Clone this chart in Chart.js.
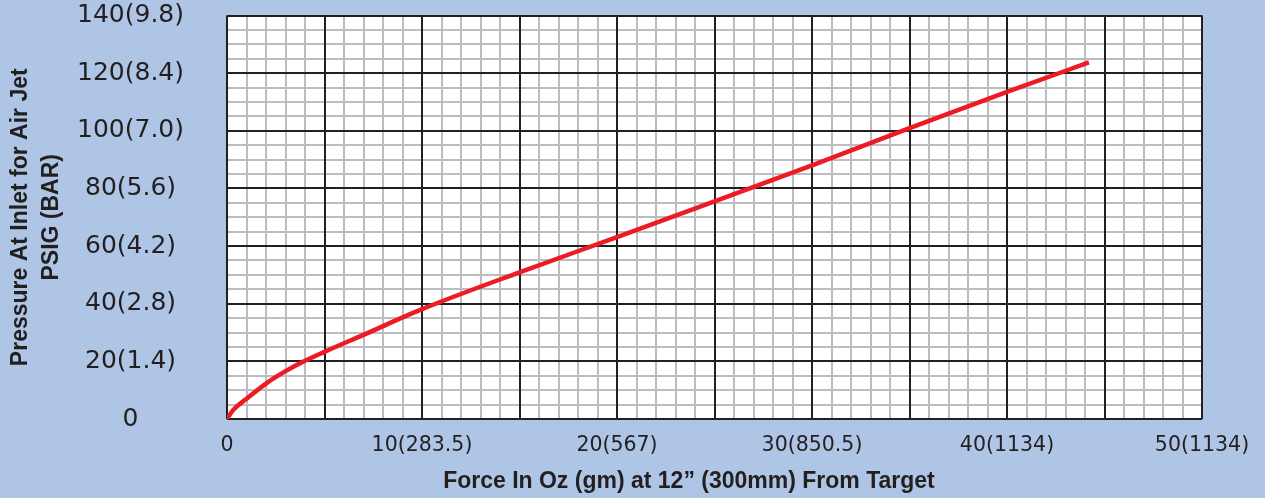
<!DOCTYPE html>
<html>
<head>
<meta charset="utf-8">
<script src="https://cdn.jsdelivr.net/npm/chart.js@4.4.1/dist/chart.umd.min.js"></script>
<style>
  html, body { margin: 0; padding: 0; background: #afc5e5; }
  #wrap { width: 1265px; height: 498px; position: relative; }
</style>
</head>
<body>
<div id="wrap"><canvas id="chart"></canvas></div>
<script>
// curve: force (oz) vs inlet pressure (psig)
const forceOz = [0, 0.3, 1, 2, 3, 4, 5, 7, 10, 15, 20, 25, 30, 35, 40, 44.2];
const pressurePsi = [0, 3.0, 7.0, 12.3, 16.6, 20.2, 23.3, 29.2, 38.1, 50.9, 63.1, 75.5, 88, 100.9, 113.5, 123.7];

const xTickValues = [0, 10, 20, 30, 40, 50];
const xTickLabels = ["0", "10(283.5)", "20(567)", "30(850.5)", "40(1134)", "50(1134)"];
const yTickValues = [0, 20, 40, 60, 80, 100, 120, 140];
const yTickLabels = ["0", "20(1.4)", "40(2.8)", "60(4.2)", "80(5.6)", "100(7.0)", "120(8.4)", "140(9.8)"];

const INK = "#231f20";
const MINOR = "#bcbdc1";

const pickLabel = (values, labels) => (v) => {
  const i = values.indexOf(v);
  return i >= 0 ? labels[i] : "";
};

const points = forceOz.map((x, i) => ({ x: x, y: pressurePsi[i] }));

// white paper behind the grid
const plotBackground = {
  id: "plotBackground",
  beforeDraw(chart) {
    const { ctx, chartArea: a } = chart;
    ctx.save();
    ctx.fillStyle = "#ffffff";
    ctx.fillRect(a.left, a.top, a.right - a.left, a.bottom - a.top);
    ctx.restore();
  },
};

new Chart(document.getElementById("chart"), {
  type: "line",
  data: {
    datasets: [{
      data: points,
      borderColor: "#ed1c24",
      borderWidth: 4.5,
      pointRadius: 0,
      cubicInterpolationMode: "monotone",
      fill: false,
    }],
  },
  options: {
    responsive: true,
    maintainAspectRatio: false,
    animation: false,
    layout: { padding: { top: 15.5, right: 63, bottom: 0, left: 0 } },
    plugins: { legend: { display: false }, tooltip: { enabled: false } },
    scales: {
      x: {
        type: "linear",
        position: "bottom",
        min: 0,
        max: 50,
        z: -1,
        border: { display: false },
        grid: { color: MINOR, lineWidth: 2, drawTicks: false },
        ticks: {
          stepSize: 1,
          autoSkip: false,
          maxRotation: 0,
          padding: 14,
          color: INK,
          font: { family: "DejaVu Sans", size: 20.5 },
          callback: pickLabel(xTickValues, xTickLabels),
        },
        title: {
          display: true,
          text: "Force In Oz (gm) at 12\u201d (300mm) From Target\u00a0\u00a0\u00a0\u00a0\u00a0\u00a0\u00a0\u00a0",
          color: INK,
          font: { family: "Liberation Sans", size: 23, weight: "bold" },
          padding: { top: 0, bottom: 3 },
        },
        afterFit: (s) => { s.height = 79; s.paddingLeft = 0; s.paddingRight = 0; },
      },
      y: {
        type: "linear",
        position: "left",
        min: 0,
        max: 140,
        z: -1,
        border: { display: false },
        grid: { color: MINOR, lineWidth: 2, drawTicks: false },
        ticks: {
          stepSize: 5,
          autoSkip: false,
          crossAlign: "center",
          padding: 43,
          color: INK,
          font: { family: "DejaVu Sans", size: 25 },
          callback: pickLabel(yTickValues, yTickLabels),
        },
        title: {
          display: true,
          text: ["Pressure At Inlet for Air Jet", "PSIG (BAR)"],
          color: INK,
          font: { family: "Liberation Sans", size: 23, weight: "bold", lineHeight: 1.35 },
          padding: { top: 5, bottom: 0 },
        },
        afterFit: (s) => { s.width = 227; s.paddingTop = 0; s.paddingBottom = 0; },
      },
      // heavy lines every 5 oz / 20 psi, drawn above the light grid
      xMajor: {
        type: "linear",
        position: "bottom",
        min: 0,
        max: 50,
        border: { display: false },
        grid: { color: INK, lineWidth: 2, drawTicks: false },
        ticks: { display: false, stepSize: 5 },
        afterFit: (s) => { s.height = 0; },
      },
      yMajor: {
        type: "linear",
        position: "left",
        min: 0,
        max: 140,
        border: { display: false },
        grid: { color: INK, lineWidth: 2, drawTicks: false },
        ticks: { display: false, stepSize: 20 },
        afterFit: (s) => { s.width = 0; },
      },
    },
  },
  plugins: [plotBackground],
});
</script>
</body>
</html>
